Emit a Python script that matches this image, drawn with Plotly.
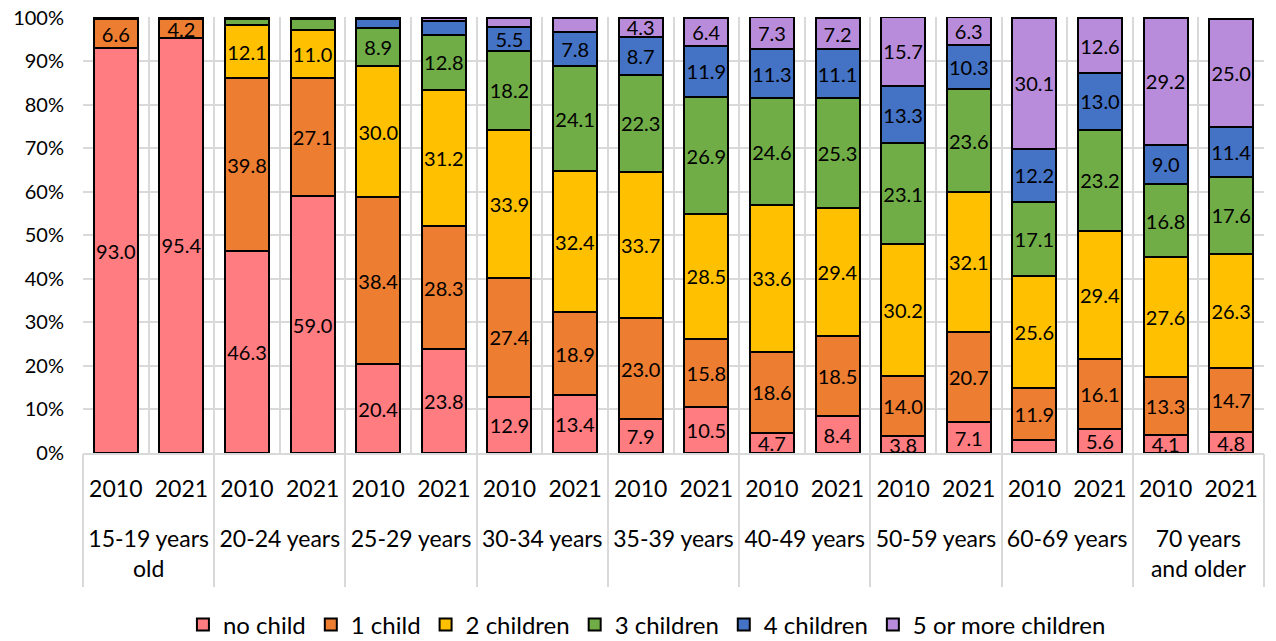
import plotly.graph_objects as go

groups = ["15-19 years<br>old", "20-24 years", "25-29 years", "30-34 years", "35-39 years",
          "40-49 years", "50-59 years", "60-69 years", "70 years<br>and older"]
years = ["2010", "2021"]

series_names = ["no child", "1 child", "2 children", "3 children", "4 children", "5 or more children"]
colors = ["#FF7C80", "#ED7D31", "#FFC000", "#70AD47", "#4472C4", "#B98CDB"]

# values per bar, in order (group, year)
no_child    = [93.0, 95.4, 46.3, 59.0, 20.4, 23.8, 12.9, 13.4, 7.9, 10.5, 4.7, 8.4, 3.8, 7.1, 3.1, 5.6, 4.1, 4.8]
one_child   = [6.6, 4.2, 39.8, 27.1, 38.4, 28.3, 27.4, 18.9, 23.0, 15.8, 18.6, 18.5, 14.0, 20.7, 11.9, 16.1, 13.3, 14.7]
two_child   = [0.3, 0.3, 12.1, 11.0, 30.0, 31.2, 33.9, 32.4, 33.7, 28.5, 33.6, 29.4, 30.2, 32.1, 25.6, 29.4, 27.6, 26.3]
three_child = [0.1, 0.1, 1.5, 2.6, 8.9, 12.8, 18.2, 24.1, 22.3, 26.9, 24.6, 25.3, 23.1, 23.6, 17.1, 23.2, 16.8, 17.6]
four_child  = [0.0, 0.0, 0.2, 0.2, 1.9, 3.1, 5.5, 7.8, 8.7, 11.9, 11.3, 11.1, 13.3, 10.3, 12.2, 13.0, 9.0, 11.4]
five_plus   = [0.0, 0.0, 0.1, 0.1, 0.4, 0.8, 2.1, 3.4, 4.3, 6.4, 7.3, 7.2, 15.7, 6.3, 30.1, 12.6, 29.2, 25.0]

y_ticks = list(range(0, 101, 10))
y_tick_labels = [f"{v}%" for v in y_ticks]

all_series = [no_child, one_child, two_child, three_child, four_child, five_plus]

n_bars = len(groups) * len(years)
bar_pos = list(range(n_bars))
bar_year_labels = [y for _ in groups for y in years]
group_centers = [i * len(years) + (len(years) - 1) / 2 for i in range(len(groups))]
bar_bounds = [i - 0.5 for i in range(n_bars + 1)]
group_bounds = [i * len(years) - 0.5 for i in range(len(groups) + 1)]

FONT = "Lato"
GRID = "#D9D9D9"
fig = go.Figure()
for name, color, vals in zip(series_names, colors, all_series):
    texts = [f"{v:.1f}" if v >= 3.5 else "" for v in vals]
    fig.add_trace(go.Bar(
        x=bar_pos, y=vals, name=name,
        marker=dict(color=color, line=dict(color="#000000", width=2)),
        text=texts, textposition="inside", insidetextanchor="middle", textangle=0,
        textfont=dict(family=FONT, size=20, color="#000000"),
        cliponaxis=False, hoverinfo="name+y",
    ))
# invisible helper so the group-label axis is rendered
fig.add_trace(go.Scatter(x=[], y=[], xaxis="x2", showlegend=False, hoverinfo="skip"))

fig.update_layout(
    barmode="stack",
    bargap=0.33,
    width=1276, height=641,
    margin=dict(l=83, r=12, t=17, b=188, autoexpand=False),
    paper_bgcolor="white", plot_bgcolor="white",
    font=dict(family=FONT, size=20, color="#000000"),
    uniformtext=dict(minsize=20, mode="show"),
    legend=dict(orientation="h", xref="container", yref="container",
                x=0.507, xanchor="center", y=0.025, yanchor="middle",
                font=dict(family=FONT, size=24, color="#000000"),
                itemwidth=30, traceorder="normal"),
    showlegend=True,
    xaxis=dict(range=[-0.5, n_bars - 0.5], tickmode="array", tickvals=bar_pos, ticktext=bar_year_labels,
               showgrid=False, zeroline=False, showline=True, linecolor=GRID, linewidth=1.5,
               ticks="", ticklabelstandoff=15, automargin=False,
               tickfont=dict(family=FONT, size=23, color="#000000"),
               minor=dict(tickmode="array", tickvals=bar_bounds, showgrid=True, gridcolor=GRID,
                          gridwidth=1.5, ticks="")),
    xaxis2=dict(overlaying="x", anchor="y", side="bottom", range=[-0.5, n_bars - 0.5],
                tickmode="array", tickvals=group_centers, ticktext=groups,
                showgrid=False, zeroline=False, showline=False, automargin=False,
                ticks="", ticklabelstandoff=70,
                tickfont=dict(family=FONT, size=23, color="#000000"),
                minor=dict(tickmode="array", tickvals=group_bounds, showgrid=False,
                           ticks="outside", ticklen=133, tickcolor=GRID, tickwidth=1.5)),
    yaxis=dict(range=[0, 100.15], tickmode="array", tickvals=y_ticks, ticktext=y_tick_labels,
               gridcolor=GRID, gridwidth=1.5, showline=False, zeroline=False, automargin=False,
               tickfont=dict(family=FONT, size=20, color="#000000"), ticks="", ticklabelstandoff=18),
)

fig.write_html("out.html")
